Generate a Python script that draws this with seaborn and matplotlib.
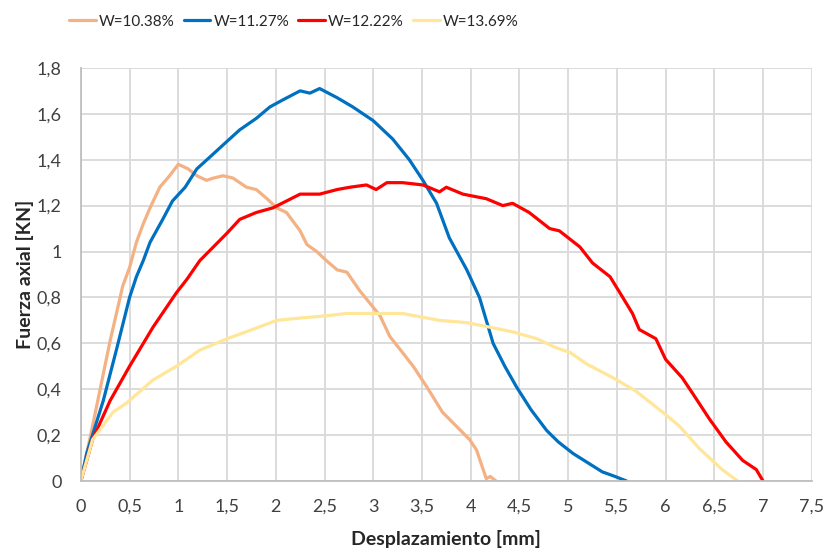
import numpy as np
import pandas as pd
import seaborn as sns
import matplotlib.pyplot as plt
from matplotlib.ticker import FuncFormatter

# ------------------------------------------------------------
# Datos (desplazamiento [mm], fuerza [KN])
# ------------------------------------------------------------
x_1038 = [0, 0.12, 0.30, 0.43, 0.50, 0.57, 0.64, 0.71, 0.81, 0.91, 1.00, 1.10,
          1.19, 1.29, 1.36, 1.46, 1.56, 1.70, 1.80, 1.91, 2.01, 2.11, 2.25,
          2.32, 2.42, 2.52, 2.63, 2.73, 2.86, 3.07, 3.17, 3.30, 3.41, 3.55,
          3.71, 3.85, 3.99, 4.06, 4.12, 4.16, 4.20, 4.26]
y_1038 = [0, 0.24, 0.61, 0.85, 0.93, 1.04, 1.12, 1.19, 1.28, 1.33, 1.38, 1.36,
          1.33, 1.31, 1.32, 1.33, 1.32, 1.28, 1.27, 1.23, 1.19, 1.17, 1.09,
          1.03, 1.00, 0.96, 0.92, 0.91, 0.83, 0.72, 0.63, 0.56, 0.50, 0.41,
          0.30, 0.24, 0.18, 0.135, 0.06, 0.01, 0.02, 0.0]

x_1127 = [0, 0.06, 0.23, 0.37, 0.50, 0.57, 0.64, 0.71, 0.84, 0.94, 1.07, 1.19,
          1.32, 1.50, 1.63, 1.80, 1.94, 2.07, 2.25, 2.35, 2.45, 2.63, 2.79,
          3.00, 3.20, 3.37, 3.51, 3.65, 3.78, 3.96, 4.09, 4.23, 4.35, 4.47,
          4.62, 4.78, 4.90, 5.05, 5.20, 5.35, 5.48, 5.60]
y_1127 = [0, 0.12, 0.35, 0.58, 0.80, 0.89, 0.96, 1.04, 1.14, 1.22, 1.28, 1.36,
          1.41, 1.48, 1.53, 1.58, 1.63, 1.66, 1.70, 1.69, 1.71, 1.67, 1.63,
          1.57, 1.49, 1.40, 1.31, 1.21, 1.06, 0.92, 0.80, 0.60, 0.50, 0.41,
          0.31, 0.22, 0.17, 0.12, 0.08, 0.04, 0.02, 0.0]

x_1222 = [0, 0.12, 0.30, 0.50, 0.74, 0.98, 1.09, 1.22, 1.36, 1.50, 1.63, 1.80,
          1.97, 2.11, 2.25, 2.45, 2.63, 2.76, 2.93, 3.03, 3.14, 3.30, 3.51,
          3.68, 3.75, 3.92, 4.16, 4.33, 4.43, 4.60, 4.81, 4.91, 5.12, 5.25,
          5.43, 5.56, 5.66, 5.73, 5.90, 6.00, 6.17, 6.28, 6.45, 6.62, 6.79,
          6.93, 7.00]
y_1222 = [0, 0.18, 0.35, 0.50, 0.67, 0.82, 0.88, 0.96, 1.02, 1.08, 1.14, 1.17,
          1.19, 1.22, 1.25, 1.25, 1.27, 1.28, 1.29, 1.27, 1.30, 1.30, 1.29,
          1.26, 1.28, 1.25, 1.23, 1.20, 1.21, 1.17, 1.10, 1.09, 1.02, 0.95,
          0.89, 0.80, 0.73, 0.66, 0.62, 0.53, 0.45, 0.38, 0.27, 0.17, 0.09,
          0.05, 0.0]

x_1369 = [0, 0.12, 0.33, 0.47, 0.74, 0.98, 1.22, 1.50, 1.76, 2.01, 2.25, 2.52,
          2.73, 3.04, 3.30, 3.68, 3.96, 4.20, 4.43, 4.68, 4.88, 5.02, 5.19,
          5.46, 5.70, 5.97, 6.14, 6.35, 6.58, 6.74]
y_1369 = [0, 0.18, 0.30, 0.34, 0.44, 0.50, 0.57, 0.62, 0.66, 0.70, 0.71, 0.72,
          0.73, 0.73, 0.73, 0.70, 0.69, 0.67, 0.65, 0.62, 0.58, 0.56, 0.51,
          0.45, 0.39, 0.30, 0.24, 0.14, 0.05, 0.0]

series = ["W=10.38%", "W=11.27%", "W=12.22%", "W=13.69%"]
colores = ["#F4B183", "#0070C0", "#FF0000", "#FFE699"]

x_ticks = [0, 0.5, 1, 1.5, 2, 2.5, 3, 3.5, 4, 4.5, 5, 5.5, 6, 6.5, 7, 7.5]
y_ticks = [0, 0.2, 0.4, 0.6, 0.8, 1.0, 1.2, 1.4, 1.6, 1.8]


def coma(v, pos):
    # formato decimal con coma, como en el original
    return f"{v:g}".replace(".", ",")


frames = []
for nombre, xs, ys in zip(series,
                          [x_1038, x_1127, x_1222, x_1369],
                          [y_1038, y_1127, y_1222, y_1369]):
    frames.append(pd.DataFrame({"x": xs, "y": ys, "serie": nombre}))
df = pd.concat(frames, ignore_index=True)

sns.set_style("white")
plt.rcParams["font.family"] = ["Lato", "DejaVu Sans"]

fig = plt.figure(figsize=(8.25, 5.52), dpi=100)
ax = fig.add_axes([0.098, 0.1286, 0.886, 0.7484])

sns.lineplot(data=df, x="x", y="y", hue="serie", hue_order=series,
             palette=colores, sort=False, estimator=None,
             linewidth=2.3, ax=ax, legend=False)

ax.set_xlim(0, 7.5)
ax.set_ylim(0, 1.8)
ax.set_xticks(x_ticks)
ax.set_yticks(y_ticks)
ax.xaxis.set_major_formatter(FuncFormatter(coma))
ax.yaxis.set_major_formatter(FuncFormatter(coma))
ax.tick_params(axis="both", labelsize=13, length=0, colors="#404040")
ax.tick_params(axis="x", pad=13)
ax.tick_params(axis="y", pad=14)
ax.grid(True, color="#D9D9D9", linewidth=1.3)
ax.set_axisbelow(True)
for lado in ["top", "right"]:
    ax.spines[lado].set_visible(False)
for lado in ["left", "bottom"]:
    ax.spines[lado].set_color("#BFBFBF")
    ax.spines[lado].set_linewidth(1.3)

ax.set_xlabel("Desplazamiento [mm]", fontsize=14, fontweight="bold", labelpad=11)
ax.set_ylabel("Fuerza axial [KN]", fontsize=14, fontweight="bold", labelpad=2)

handles = [plt.Line2D([0], [0], color=c, linewidth=2.3) for c in colores]
fig.legend(handles, series, loc="upper left", bbox_to_anchor=(0.066, 1.0),
           ncol=4, frameon=False, fontsize=11, handlelength=1.75,
           columnspacing=0.6, handletextpad=0.2, borderpad=0.45)

fig.savefig("out.png", dpi=100)
